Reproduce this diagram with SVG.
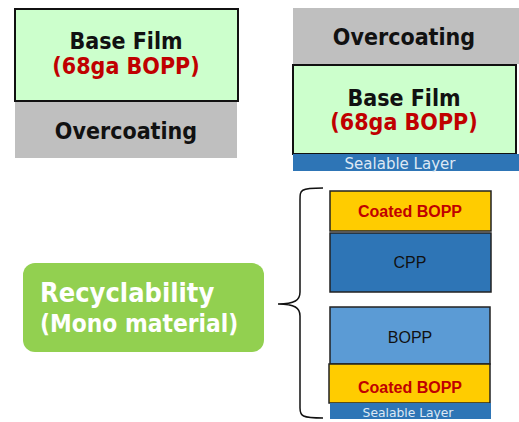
<svg xmlns="http://www.w3.org/2000/svg" width="519" height="422" viewBox="0 0 519 422">
<style>
.film{fill:#ccffcc;stroke:#111;stroke-width:2}
.over{fill:#bfbfbf}
.seal{fill:#2e75b6}
.t{font-family:"DejaVu Sans Condensed","DejaVu Sans",Verdana,sans-serif;font-weight:bold;text-anchor:middle}
.blk{fill:#111}
.red{fill:#c00000}
.sl{font-family:"DejaVu Sans",Verdana,sans-serif;fill:#dde8f4;text-anchor:middle}
.c{font-family:"Liberation Sans",Arial,sans-serif;text-anchor:middle}
.lay{stroke:#222;stroke-width:1.5}
</style>
<g id="left-stack">
<rect class="over" x="15" y="101" width="222" height="57"/>
<rect class="film" x="15" y="9" width="223" height="92"/>
<text class="t blk" x="126" y="49" font-size="23">Base Film</text>
<text class="t red" x="126" y="74" font-size="23">(68ga BOPP)</text>
<text class="t blk" x="126" y="139" font-size="23">Overcoating</text>
</g>
<g id="right-stack">
<rect class="over" x="293" y="8" width="226" height="56"/>
<rect class="film" x="293" y="65" width="223" height="89"/>
<rect class="seal" x="293" y="154" width="226" height="17"/>
<text class="t blk" x="404" y="45" font-size="23">Overcoating</text>
<text class="t blk" x="404" y="106" font-size="23">Base Film</text>
<text class="t red" x="404" y="130" font-size="23">(68ga BOPP)</text>
<text class="sl" x="400" y="169" font-size="15">Sealable Layer</text>
</g>
<g id="recyclability">
<rect x="23" y="263" width="241" height="89" rx="12" fill="#92d050"/>
<text class="t" x="40" y="302" font-size="27" fill="#fff" style="text-anchor:start">Recyclability</text>
<text class="t" x="40" y="332" font-size="24.3" fill="#fff" style="text-anchor:start">(Mono material)</text>
</g>
<g id="connectors">
<path d="M323,188 C300,188 300,190 300,200 L300,292 C300,300 295,304 278,304 C295,304 300,308 300,316 L300,408 C300,416 302,418 323,418" fill="none" stroke="#111" stroke-width="1.5"/>
</g>
<g id="mono-stack">
<rect class="lay" x="330" y="191" width="161" height="40" fill="#ffcc00"/>
<text class="c red" x="410" y="217" font-size="16" font-weight="bold">Coated BOPP</text>
<rect class="lay" x="330" y="233" width="161" height="59" fill="#2e75b6"/>
<text class="c blk" x="410" y="268" font-size="16">CPP</text>
<rect class="lay" x="330" y="307" width="160" height="57" fill="#5b9bd5"/>
<text class="c blk" x="410" y="343" font-size="16">BOPP</text>
<rect class="lay" x="329" y="364" width="161" height="39" fill="#ffcc00"/>
<text class="c red" x="410" y="393" font-size="16" font-weight="bold">Coated BOPP</text>
<rect class="seal" x="330" y="403" width="161" height="16"/>
<text class="sl" x="408" y="417" font-size="12.3">Sealable Layer</text>
</g>
</svg>
